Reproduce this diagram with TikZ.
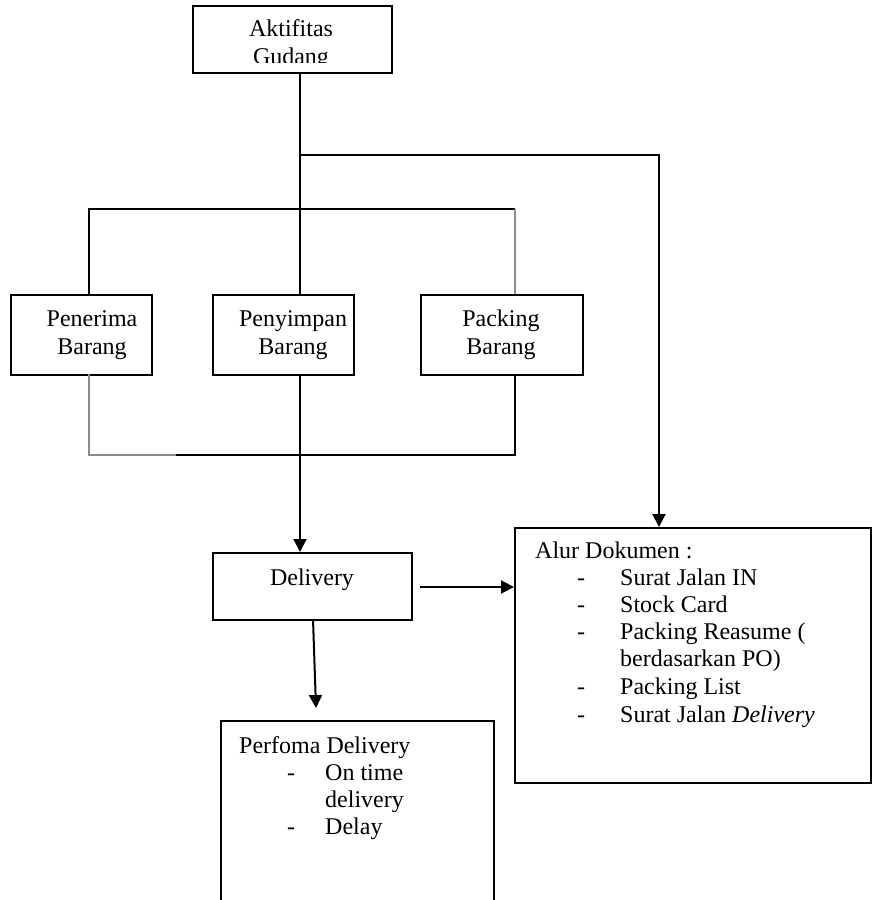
\documentclass[tikz,border=0pt]{standalone}
\usepackage{fontspec}
\setmainfont{Liberation Serif}
\usetikzlibrary{arrows.meta}
\begin{document}
\begin{tikzpicture}[x=1pt,y=-1pt,
  box/.style={draw=black, line width=1.6pt, rectangle, inner sep=0pt, anchor=north west},
  lbl/.style={inner sep=0pt, font=\fontsize{24}{27}\selectfont, text=black},
  conn/.style={draw=black, line width=2pt},
  greyconn/.style={draw=black!45, line width=2pt},
  arr/.style={conn, -{Triangle[width=13pt,length=13pt]}}]
\clip (0,0) rectangle (872,900);
\useasboundingbox (0,0) rectangle (872,900);

% boxes
\node[box, minimum width=199pt, minimum height=67pt] (akt) at (192,5) {};
\node[box, minimum width=141pt, minimum height=80pt] (penerima) at (10,294) {};
\node[box, minimum width=141pt, minimum height=80pt] (penyimpan) at (212,294) {};
\node[box, minimum width=162pt, minimum height=80pt] (packing) at (420,294) {};
\node[box, minimum width=199pt, minimum height=67pt] (delivery) at (212,552) {};
\node[box, minimum width=356pt, minimum height=255pt] (alur) at (514,527) {};
\node[box, minimum width=273pt, minimum height=200pt] (perfoma) at (220,720) {};

% box texts
\begin{scope}
\clip (193,6) rectangle (390,62);
\node[lbl, anchor=base] (aktA) at (291,36) {Aktifitas};
\node[lbl, anchor=base] (aktB) at (291,64) {Gudang};
\end{scope}
\node[lbl, anchor=base] (penA) at (92,326) {Penerima};
\node[lbl, anchor=base] (penB) at (92,354) {Barang};
\node[lbl, anchor=base] (pyA) at (293,326) {Penyimpan};
\node[lbl, anchor=base] (pyB) at (293,354) {Barang};
\node[lbl, anchor=base] (pkA) at (501,326) {Packing};
\node[lbl, anchor=base] (pkB) at (501,354) {Barang};
\node[lbl, anchor=base] (delT) at (312,585) {Delivery};

% Alur Dokumen list
\node[lbl, anchor=base west] (a0) at (535,558) {Alur Dokumen :};
\node[lbl, anchor=base west] (a1d) at (577,585) {-};
\node[lbl, anchor=base west] (a1) at (620,585) {Surat Jalan IN};
\node[lbl, anchor=base west] (a2d) at (577,612) {-};
\node[lbl, anchor=base west] (a2) at (620,612) {Stock Card};
\node[lbl, anchor=base west] (a3d) at (577,639) {-};
\node[lbl, anchor=base west] (a3) at (620,639) {Packing Reasume (};
\node[lbl, anchor=base west] (a4) at (620,666) {berdasarkan PO)};
\node[lbl, anchor=base west] (a5d) at (577,694) {-};
\node[lbl, anchor=base west] (a5) at (620,694) {Packing List};
\node[lbl, anchor=base west] (a6d) at (577,722) {-};
\node[lbl, anchor=base west] (a6) at (620,722) {Surat Jalan \textit{Delivery}};

% Perfoma Delivery list
\node[lbl, anchor=base west] (p0) at (239,753) {Perfoma Delivery};
\node[lbl, anchor=base west] (p1d) at (287,780) {-};
\node[lbl, anchor=base west] (p1) at (325,780) {On time};
\node[lbl, anchor=base west] (p2) at (325,807) {delivery};
\node[lbl, anchor=base west] (p3d) at (287,834) {-};
\node[lbl, anchor=base west] (p3) at (325,834) {Delay};

% junction coordinates
\coordinate (j1) at (300,155);
\coordinate (j2) at (300,209);
\coordinate (alurIn) at (659,527);
\coordinate (pnTop) at (89,294);
\coordinate (pnBar) at (89,209);
\coordinate (pkBar) at (515,209);
\coordinate (pkTop) at (515,294);
\coordinate (pnBot) at (89,374);
\coordinate (pnCorner) at (89,455);
\coordinate (barMid) at (176,455);
\coordinate (pkCorner) at (515,455);
\coordinate (pkBot) at (515,374);
\coordinate (delOut) at (313,619);
\coordinate (perfIn) at (316,708);
\coordinate (delRight) at (420,587);
\coordinate (alurLeft) at (514,587);

% connectors
\draw[conn] (akt.south -| j1) -- (penyimpan.north -| j1);
\draw[arr] (j1) -| (alurIn);
\draw[conn] (pnTop) -- (pnBar) -- (pkBar);
\draw[greyconn] (pkBar) -- (pkTop);
\draw[greyconn] (pnBot) -- (pnCorner) -- (barMid);
\draw[conn] (barMid) -- (pkCorner) -- (pkBot);
\draw[arr] (penyimpan.south -| j1) -- (delivery.north -| j1);
\draw[arr] (delOut) -- (perfIn);
\draw[arr] (delRight) -- (alurLeft);
\end{tikzpicture}
\end{document}
